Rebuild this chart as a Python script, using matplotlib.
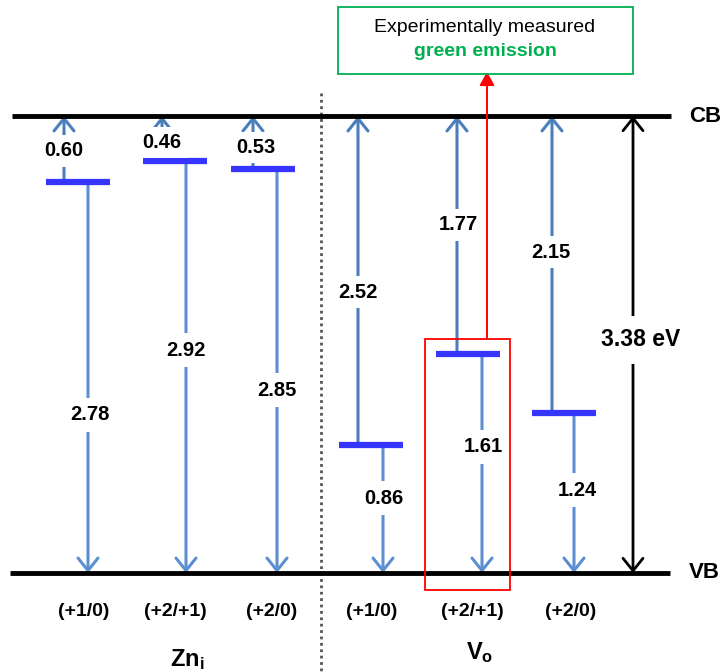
import matplotlib
matplotlib.use("Agg")
import matplotlib.pyplot as plt
from matplotlib.patches import Rectangle

plt.rcParams['font.family'] = ['Liberation Sans', 'DejaVu Sans']
plt.rcParams['mathtext.fontset'] = 'custom'
plt.rcParams['mathtext.rm'] = 'Liberation Sans:bold'
plt.rcParams['mathtext.bf'] = 'Liberation Sans:bold'
plt.rcParams['mathtext.it'] = 'Liberation Sans:bold'

# ---------------- data ----------------
band_gap = 3.38
charges = ['(+1/0)', '(+2/+1)', '(+2/0)', '(+1/0)', '(+2/+1)', '(+2/0)']
groups = ['Zn$_\\mathregular{i}$', 'V$_\\mathregular{o}$']
level_drawn = [2.89, 3.05, 2.99, 0.95, 1.62, 1.18]      # level heights above VB as drawn (eV)
up_values = [0.60, 0.46, 0.53, 2.52, 1.77, 2.15]        # level -> CB
down_values = [2.78, 2.92, 2.85, 0.86, 1.61, 1.24]      # level -> VB

# ---------------- layout ----------------
PX_PER_EV = (573 - 116) / band_gap
def ev(ypx):
    return (573 - ypx) / PX_PER_EV

bar_left = [46, 143, 231, 339, 436, 532]
bar_w = 64
up_x = [64, 162, 253, 358, 457, 552]
down_x = [88, 186, 277, 383, 482, 574]
up_lab_x = [64, 162, 256, 358, 458, 551]
up_lab_y = [151, 142.5, 147.5, 292, 225, 252]
down_lab_x = [90, 186, 277, 384, 483, 577]
down_lab_y = [415, 350, 390, 498, 447, 490]
charge_x = [84, 175, 272, 372, 472, 571]
group_x = [187, 480]
group_y = [660, 653]

up_col = '#4a7ebb'
down_col = '#5b8fd1'
bar_col = '#3535ff'

fig = plt.figure(figsize=(7.24, 6.72), dpi=100)
ax = fig.add_axes([0, 0, 1, 1])
ax.set_xlim(0, 724)
ax.set_ylim(ev(672), ev(0))
ax.axis('off')

# CB / VB
ax.hlines(band_gap, 12, 671, color='black', lw=3.5, zorder=3)
ax.hlines(0, 10, 670, color='black', lw=3.5, zorder=3)
ax.text(689, band_gap, 'CB', fontsize=16, fontweight='bold', ha='left', va='center')
ax.text(689, 0, 'VB', fontsize=16, fontweight='bold', ha='left', va='center')

# divider
ax.plot([321, 321], [ev(93), ev(672)], color='#555555', lw=2, ls=(0, (1, 1.3)), zorder=1)

astyle = '->,head_length=0.45,head_width=0.36'
for i in range(len(charges)):
    lvl = level_drawn[i]
    ax.annotate('', xy=(up_x[i], band_gap), xytext=(up_x[i], lvl),
                arrowprops=dict(arrowstyle=astyle, lw=2.2, color=up_col,
                                shrinkA=0, shrinkB=0, mutation_scale=20), zorder=2)
    ax.annotate('', xy=(down_x[i], 0), xytext=(down_x[i], lvl),
                arrowprops=dict(arrowstyle=astyle, lw=2.2, color=down_col,
                                shrinkA=0, shrinkB=0, mutation_scale=20), zorder=2)
    ax.hlines(lvl, bar_left[i], bar_left[i] + bar_w, color=bar_col, lw=4.5, zorder=4)
    ax.text(up_lab_x[i], ev(up_lab_y[i]), f'{up_values[i]:.2f}', fontsize=14.5, fontweight='bold',
            ha='center', va='center', zorder=5,
            bbox=dict(boxstyle='square,pad=0.3', fc='white', ec='none'))
    ax.text(down_lab_x[i], ev(down_lab_y[i]), f'{down_values[i]:.2f}', fontsize=14.5,
            fontweight='bold', ha='center', va='center', zorder=5,
            bbox=dict(boxstyle='square,pad=0.35', fc='white', ec='none'))
    ax.text(charge_x[i], ev(612), charges[i], fontsize=14, fontweight='bold',
            ha='center', va='center')

for g, gx, gy in zip(groups, group_x, group_y):
    ax.text(gx, ev(gy), g, fontsize=17, fontweight='bold', ha='center', va='center')

# band gap arrow
ax.annotate('', xy=(633, band_gap), xytext=(633, 0),
            arrowprops=dict(arrowstyle='<->,head_length=0.45,head_width=0.36', lw=2,
                            color='black', shrinkA=0, shrinkB=0, mutation_scale=20), zorder=2)
ax.text(641, ev(340), f'{band_gap:.2f} eV', fontsize=16.5, fontweight='bold', ha='center',
        va='center', zorder=5, bbox=dict(boxstyle='square,pad=0.55', fc='white', ec='none'))

# highlight box and arrow
ax.add_patch(Rectangle((425, ev(590)), 85, ev(339) - ev(590), fill=False,
                       ec='#ff0000', lw=1.3, zorder=6))
ax.annotate('', xy=(487, ev(72)), xytext=(487, ev(339)),
            arrowprops=dict(arrowstyle='-|>,head_length=0.8,head_width=0.45', lw=1.4,
                            color='#ff0000', shrinkA=0, shrinkB=0, mutation_scale=10), zorder=6)
ax.add_patch(Rectangle((338, ev(74)), 295, ev(7) - ev(74), fill=False,
                       ec='#00b050', lw=1.3, zorder=6))
ax.text(485, ev(27), 'Experimentally measured', fontsize=14, ha='center', va='center')
ax.text(485, ev(51), 'green emission', fontsize=14, fontweight='bold', color='#00b050',
        ha='center', va='center')

fig.savefig('out.png', dpi=100)
